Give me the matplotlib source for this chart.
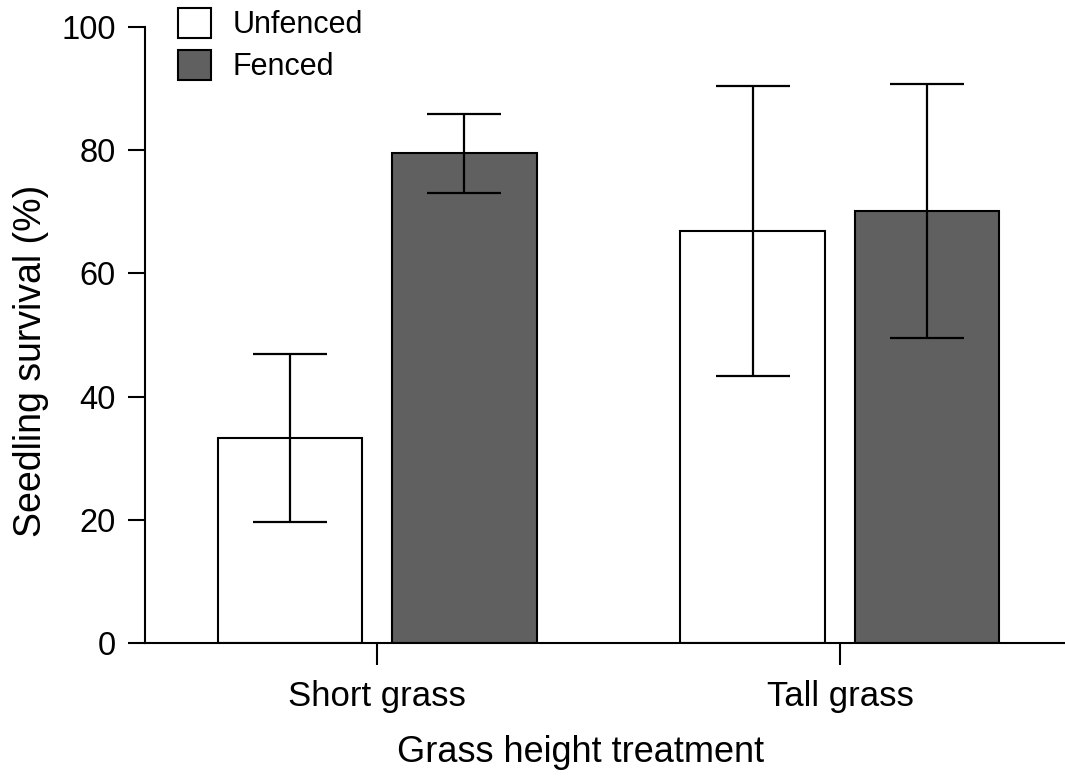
import matplotlib
matplotlib.use("Agg")
import matplotlib.pyplot as plt
import numpy as np

categories = ["Short grass", "Tall grass"]
series_names = ["Unfenced", "Fenced"]
unfenced_mean = [33.3, 66.9]
unfenced_err = [13.6, 23.6]
fenced_mean = [79.5, 70.1]
fenced_err = [6.4, 20.6]
yticks = [0, 20, 40, 60, 80, 100]

plt.rcParams['font.family'] = ['Liberation Sans', 'DejaVu Sans']

fig = plt.figure(figsize=(10.65, 7.76), dpi=100)
ax = fig.add_axes([0.1362, 0.1714, 0.8638, 0.7938])

x = np.arange(len(categories))
w = 0.313
off = 0.188
ekw = dict(elinewidth=1.6, capthick=1.6, ecolor='black')
ax.bar(x - off, unfenced_mean, w, yerr=unfenced_err, color='white', edgecolor='black',
       linewidth=1.5, capsize=26.5, error_kw=ekw, label=series_names[0])
ax.bar(x + off, fenced_mean, w, yerr=fenced_err, color='#606060', edgecolor='black',
       linewidth=1.5, capsize=26.5, error_kw=ekw, label=series_names[1])

ax.set_xlim(-0.501, 1.486)
ax.set_ylim(0, 100)
ax.set_yticks(yticks)
ax.set_xticks(x)
ax.set_xticklabels(categories, fontsize=25)
ax.tick_params(axis='y', labelsize=23.5, length=12, width=1.5, direction='out', pad=9)
ax.tick_params(axis='x', length=16, width=1.5, direction='out', pad=11)
for s in ['top', 'right']:
    ax.spines[s].set_visible(False)
for s in ['left', 'bottom']:
    ax.spines[s].set_linewidth(1.5)
ax.set_ylabel("Seedling survival (%)", fontsize=27)
ax.set_xlabel("Grass height treatment", fontsize=26)
ax.yaxis.set_label_coords(-0.104, 0.458)
ax.xaxis.set_label_coords(0.473, -0.149)

ax.legend(loc='upper left', bbox_to_anchor=(0.036, 1.031), frameon=False, fontsize=22,
          handlelength=1.08, handleheight=1.15, handletextpad=0.69, labelspacing=0.3,
          borderaxespad=0, borderpad=0)

fig.savefig("out.png", dpi=100)
